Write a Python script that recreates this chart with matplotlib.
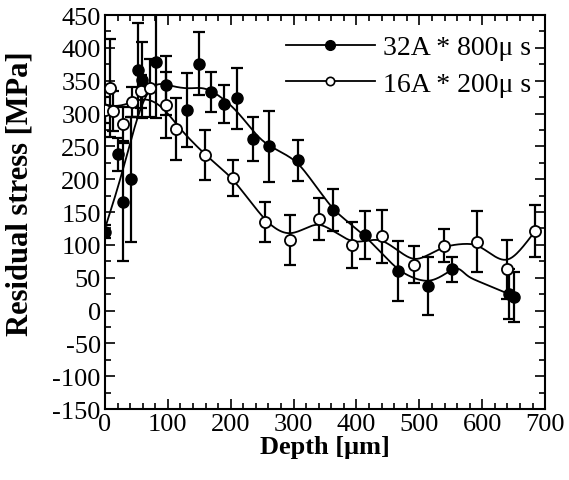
import numpy as np
import matplotlib
matplotlib.use("Agg")
import matplotlib.pyplot as plt
from matplotlib.ticker import MultipleLocator

# 32A * 800us (filled)
depth_32 = [0, 21, 29, 42, 52, 59, 81, 97, 130, 149, 168, 190, 210, 235, 261, 307, 362, 413, 466, 513, 552, 643, 650]
stress_32 = [120, 238, 165, 200, 366, 351, 378, 343, 305, 376, 333, 314, 323, 261, 250, 229, 153, 115, 60, 37, 63, 25, 20]
err_32 = [10, 25, 90, 95, 72, 58, 85, 45, 56, 48, 30, 29, 47, 33, 54, 31, 32, 37, 46, 44, 19, 38, 38]

# 16A * 200us (open)
depth_16 = [0, 8, 13, 29, 43, 57, 72, 97, 113, 159, 204, 254, 294, 340, 393, 440, 491, 539, 591, 639, 684]
stress_16 = [305, 339, 304, 284, 318, 334, 339, 313, 276, 237, 202, 135, 108, 139, 100, 113, 70, 99, 105, 63, 121]
err_16 = [20, 75, 30, 26, 23, 25, 44, 50, 47, 38, 27, 30, 38, 32, 35, 40, 28, 25, 46, 45, 39]

labels = ["32A * 800\u03bc s", "16A * 200\u03bc s"]


def smooth(x, y, bw=26.0):
    # local linear gaussian-kernel smoother for the fitted curve
    x = np.asarray(x, float)
    y = np.asarray(y, float)
    grid = np.linspace(x.min(), x.max(), 400)
    out = []
    for g in grid:
        w = np.exp(-0.5 * ((x - g) / bw) ** 2)
        X = np.vstack([np.ones_like(x), x - g]).T
        W = np.diag(w)
        beta = np.linalg.lstsq(X.T @ W @ X, X.T @ W @ y, rcond=None)[0]
        out.append(beta[0])
    return grid, np.array(out)


plt.rcParams['font.family'] = ['Liberation Serif', 'DejaVu Serif']
plt.rcParams['axes.unicode_minus'] = False
fig = plt.figure(figsize=(5.69, 4.81), dpi=100)
ax = fig.add_axes([0.1845, 0.1476, 0.7735, 0.819])

gx, gy = smooth(depth_32, stress_32)
ax.plot(gx, gy, color='black', lw=1.3, zorder=2)
gx, gy = smooth(depth_16, stress_16)
ax.plot(gx, gy, color='black', lw=1.3, zorder=2)

ax.errorbar(depth_32, stress_32, yerr=err_32, fmt='none', ecolor='black',
            elinewidth=1.6, capsize=4.5, capthick=1.6, zorder=3)
ax.errorbar(depth_16, stress_16, yerr=err_16, fmt='none', ecolor='black',
            elinewidth=1.6, capsize=4.5, capthick=1.6, zorder=3)
ax.plot(depth_32, stress_32, 'o', ms=8, mfc='black', mec='black', zorder=4)
ax.plot(depth_16, stress_16, 'o', ms=8, mfc='white', mec='black', mew=1.3, zorder=4)

# legend handles
h1, = ax.plot([], [], '-o', color='black', ms=7, mfc='black', lw=1.3)
h2, = ax.plot([], [], '-o', color='black', ms=6, mfc='white', mew=1.2, lw=1.3)
ax.legend([h1, h2], labels, loc='upper right', frameon=False, fontsize=20,
          handlelength=3.2, handletextpad=0.3, labelspacing=0.4,
          borderaxespad=0.1, bbox_to_anchor=(1.0, 0.985))

ax.set_xlim(0, 700)
ax.set_ylim(-150, 450)
ax.xaxis.set_major_locator(MultipleLocator(100))
ax.xaxis.set_minor_locator(MultipleLocator(20))
ax.yaxis.set_major_locator(MultipleLocator(50))
ax.yaxis.set_minor_locator(MultipleLocator(25))
ax.tick_params(which='both', direction='in', top=True, right=True, labelsize=19, width=1.2)
ax.tick_params(which='major', length=7, pad=3)
ax.tick_params(which='minor', length=4)
for s in ax.spines.values():
    s.set_linewidth(1.5)

ax.set_xlabel("Depth [\u03bcm]", fontsize=19, fontweight='bold', labelpad=0)
ax.set_ylabel("Residual stress [MPa]", fontsize=22, fontweight='bold')
ax.yaxis.set_label_coords(-0.16, 0.55)

fig.savefig("out.png", dpi=100)
